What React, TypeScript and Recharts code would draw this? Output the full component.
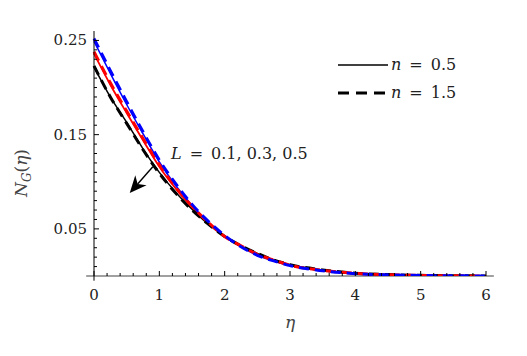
import React from 'react';
import { LineChart, Line, XAxis, YAxis, ReferenceLine, Legend } from 'recharts';

// eta grid and N_G values
const ETA = [0, 0.25, 0.5, 0.75, 1, 1.25, 1.5, 1.75, 2, 2.25, 2.5, 2.75, 3, 3.5, 4, 4.5, 5, 5.5, 6];

// L = 0.1 (blue), 0.3 (red), 0.5 (black); solid n = 0.5, dashed n = 1.5
const BLUE_SOLID = [0.249, 0.215, 0.182, 0.151, 0.121, 0.096, 0.075, 0.057, 0.042, 0.031, 0.022, 0.016, 0.011, 0.0055, 0.0025, 0.0012, 0.0005, 0.0002, 0.0001];
const BLUE_DASHED = [0.252, 0.218, 0.185, 0.153, 0.123, 0.098, 0.076, 0.058, 0.043, 0.031, 0.022, 0.016, 0.011, 0.0055, 0.0025, 0.0012, 0.0005, 0.0002, 0.0001];
const RED_SOLID = [0.236, 0.203, 0.173, 0.144, 0.116, 0.093, 0.073, 0.056, 0.042, 0.032, 0.023, 0.017, 0.0115, 0.006, 0.0028, 0.0013, 0.0006, 0.0002, 0.0001];
const RED_DASHED = [0.238, 0.205, 0.175, 0.146, 0.118, 0.094, 0.074, 0.057, 0.042, 0.032, 0.023, 0.017, 0.0115, 0.006, 0.0028, 0.0013, 0.0006, 0.0002, 0.0001];
const BLACK_SOLID = [0.222, 0.19, 0.163, 0.135, 0.11, 0.089, 0.071, 0.055, 0.042, 0.032, 0.024, 0.017, 0.012, 0.0065, 0.003, 0.0015, 0.0007, 0.0003, 0.0001];
const BLACK_DASHED = [0.223, 0.19, 0.162, 0.134, 0.109, 0.088, 0.07, 0.055, 0.042, 0.032, 0.024, 0.017, 0.012, 0.0065, 0.003, 0.0015, 0.0007, 0.0003, 0.0001];

const X_TICKS = [0, 0.2, 0.4, 0.6, 0.8, 1, 1.2, 1.4, 1.6, 1.8, 2, 2.2, 2.4, 2.6, 2.8, 3, 3.2, 3.4, 3.6, 3.8, 4, 4.2, 4.4, 4.6, 4.8, 5, 5.2, 5.4, 5.6, 5.8, 6];
const Y_TICKS = [0.01, 0.02, 0.03, 0.04, 0.05, 0.06, 0.07, 0.08, 0.09, 0.1, 0.11, 0.12, 0.13, 0.14, 0.15, 0.16, 0.17, 0.18, 0.19, 0.2, 0.21, 0.22, 0.23, 0.24, 0.25];
const Y_LABELS = ['0.05', '0.15', '0.25'];

// arrow annotation (start -> tip), in data units
const ARROW = [{ x: 0.9, y: 0.116 }, { x: 0.547, y: 0.088 }];

const FONT = '"DejaVu Serif", serif';
const EQ = '\u2002=\u2002';

const data = ETA.map((e, i) => ({
    eta: e,
    bs: BLUE_SOLID[i], bd: BLUE_DASHED[i],
    rs: RED_SOLID[i], rd: RED_DASHED[i],
    ks: BLACK_SOLID[i], kd: BLACK_DASHED[i],
}));

const XTick = (props: any) => {
    const { x, y, payload } = props;
    const v = payload.value;
    const major = Math.abs(v - Math.round(v)) < 1e-6;
    return (
        <g>
            <line x1={x} y1={y} x2={x} y2={y - (major ? 5 : 3)} stroke="#000" strokeWidth={1} />
            {major && (
                <text x={x} y={y + 24} textAnchor="middle" fontFamily={FONT} fontSize={15} fill="#222">
                    {Math.round(v)}
                </text>
            )}
        </g>
    );
};

const YTick = (props: any) => {
    const { x, y, payload } = props;
    const label = payload.value.toFixed(2);
    const major = Y_LABELS.includes(label);
    return (
        <g>
            <line x1={x} y1={y} x2={x + (major ? 5 : 3)} y2={y} stroke="#000" strokeWidth={1} />
            {major && (
                <text x={x - 7} y={y + 5} textAnchor="end" fontFamily={FONT} fontSize={15} fill="#222">
                    {label}
                </text>
            )}
        </g>
    );
};

const ArrowShape = (props: any) => {
    const { x1, y1, x2, y2 } = props;
    const dx = x2 - x1, dy = y2 - y1;
    const len = Math.sqrt(dx * dx + dy * dy);
    const ux = dx / len, uy = dy / len;
    const hl = 17, hw = 7.5;
    const bx = x2 - ux * hl, by = y2 - uy * hl;
    const nx = -uy, ny = ux;
    return (
        <g>
            <line x1={x1} y1={y1} x2={bx + ux * 5} y2={by + uy * 5} stroke="#000" strokeWidth={1.4} />
            <polygon
                points={`${x2},${y2} ${bx + nx * hw},${by + ny * hw} ${bx + ux * 5},${by + uy * 5} ${bx - nx * hw},${by - ny * hw}`}
                fill="#000"
            />
            <text x={171} y={159} fontFamily={FONT} fontSize={16} fill="#222">
                <tspan fontStyle="italic">L</tspan>{EQ}0.1, 0.3, 0.5
            </text>
        </g>
    );
};

const LegendBox = () => (
    <svg width={150} height={50}>
        <line x1={2} y1={10} x2={52} y2={10} stroke="#000" strokeWidth={1.3} />
        <text x={55} y={15} fontFamily={FONT} fontSize={16} fill="#222">
            <tspan fontStyle="italic">n</tspan>{EQ}0.5
        </text>
        <line x1={2} y1={38} x2={52} y2={38} stroke="#000" strokeWidth={3} strokeDasharray="11 7" />
        <text x={55} y={43} fontFamily={FONT} fontSize={16} fill="#222">
            <tspan fontStyle="italic">n</tspan>{EQ}1.5
        </text>
    </svg>
);

const YLabel = () => (
    <text transform="translate(27,173) rotate(-90)" textAnchor="middle" fontFamily={FONT} fontSize={17} fill="#444">
        <tspan fontStyle="italic">N</tspan>
        <tspan fontStyle="italic" fontSize={12} dy={4}>G</tspan>
        <tspan dy={-4}>(</tspan>
        <tspan fontStyle="italic">η</tspan>
        <tspan>)</tspan>
    </text>
);

export default function App() {
    return (
        <div style={{ position: 'absolute', left: 0, top: 0, background: '#fff' }}>
            <LineChart width={527} height={356} data={data} margin={{ top: 31, right: 41, bottom: 24, left: 40 }}>
                <XAxis
                    dataKey="eta"
                    type="number"
                    domain={[0, 6]}
                    ticks={X_TICKS}
                    interval={0}
                    axisLine={false}
                    tickLine={false}
                    tickSize={0}
                    tickMargin={0}
                    tick={<XTick />}
                    height={56}
                    label={{ value: 'η', position: 'insideBottom', offset: 4, fontFamily: FONT, fontSize: 17, fontStyle: 'italic', fill: '#444' }}
                />
                <YAxis
                    type="number"
                    domain={[0, 0.26]}
                    ticks={Y_TICKS}
                    interval={0}
                    allowDataOverflow
                    width={54}
                    axisLine={{ stroke: '#000', strokeWidth: 1 }}
                    tickLine={false}
                    tickSize={0}
                    tickMargin={0}
                    tick={<YTick />}
                    label={{ content: () => <YLabel /> }}
                />
                <ReferenceLine
                    segment={[{ x: -0.12, y: 0 }, { x: 6.12, y: 0 }]}
                    stroke="#808080"
                    strokeWidth={1.6}
                    ifOverflow="visible"
                />
                <ReferenceLine
                    segment={[{ x: 0, y: 0 }, { x: 0, y: -0.005 }]}
                    stroke="#000"
                    strokeWidth={1}
                    ifOverflow="visible"
                />
                <Line type="monotone" dataKey="ks" stroke="#000" strokeWidth={1.5} dot={false} isAnimationActive={false} />
                <Line type="monotone" dataKey="rs" stroke="#ff0000" strokeWidth={1.8} dot={false} isAnimationActive={false} />
                <Line type="monotone" dataKey="bs" stroke="#0000ff" strokeWidth={1.5} dot={false} isAnimationActive={false} />
                <Line type="monotone" dataKey="kd" stroke="#000" strokeWidth={3} strokeDasharray="10 6" dot={false} isAnimationActive={false} />
                <Line type="monotone" dataKey="rd" stroke="#ff0000" strokeWidth={3} strokeDasharray="10 6" dot={false} isAnimationActive={false} />
                <Line type="monotone" dataKey="bd" stroke="#0000ff" strokeWidth={3} strokeDasharray="10 6" dot={false} isAnimationActive={false} />
                <ReferenceLine segment={ARROW} ifOverflow="visible" shape={<ArrowShape />} />
                <Legend
                    content={<LegendBox />}
                    layout="horizontal"
                    align="center"
                    verticalAlign="middle"
                    wrapperStyle={{ position: 'absolute', left: 336, top: 55, width: 150 }}
                />
            </LineChart>
        </div>
    );
}
